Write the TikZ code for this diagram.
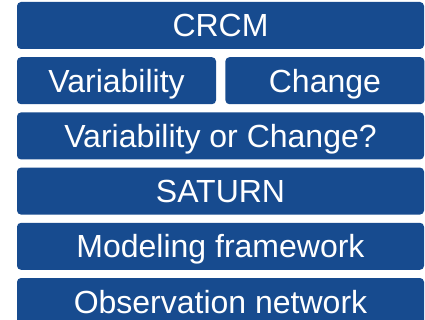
\documentclass[tikz,border=0pt]{standalone}
\usepackage{fontspec}
\setmainfont{Liberation Sans}
\usetikzlibrary{positioning}
\definecolor{boxblue}{RGB}{23,75,143}

\begin{document}
\begin{tikzpicture}[x=1pt, y=1pt]
    \tikzstyle{tier}=[
        fill = boxblue,
        rounded corners = 4pt,
        text = white,
        font = \fontsize{32}{38}\selectfont,
        minimum width = 407pt,
        minimum height = 47pt,
        text height = 23pt,
        text depth = 0pt,
        inner sep = 0pt
    ]
    \useasboundingbox (0,0) rectangle (425,-320);
    \begin{scope}[node distance=7.8pt and 9pt, every node/.style=tier]
      \node (crcm) at (220.5,-25.5) {CRCM};
      \node (var) [below=of crcm.south west, anchor=north west, minimum width=199pt] {Variability};
      \node (chg) [right=of var, minimum width=199pt] {Change};
      \node (voc) [below=of var.south west, anchor=north west] {Variability or Change?};
      \node (saturn) [below=of voc] {SATURN};
      \node (model) [below=of saturn] {Modeling framework};
      \node (obs) [below=of model] {Observation network};
    \end{scope}
\end{tikzpicture}
\end{document}
